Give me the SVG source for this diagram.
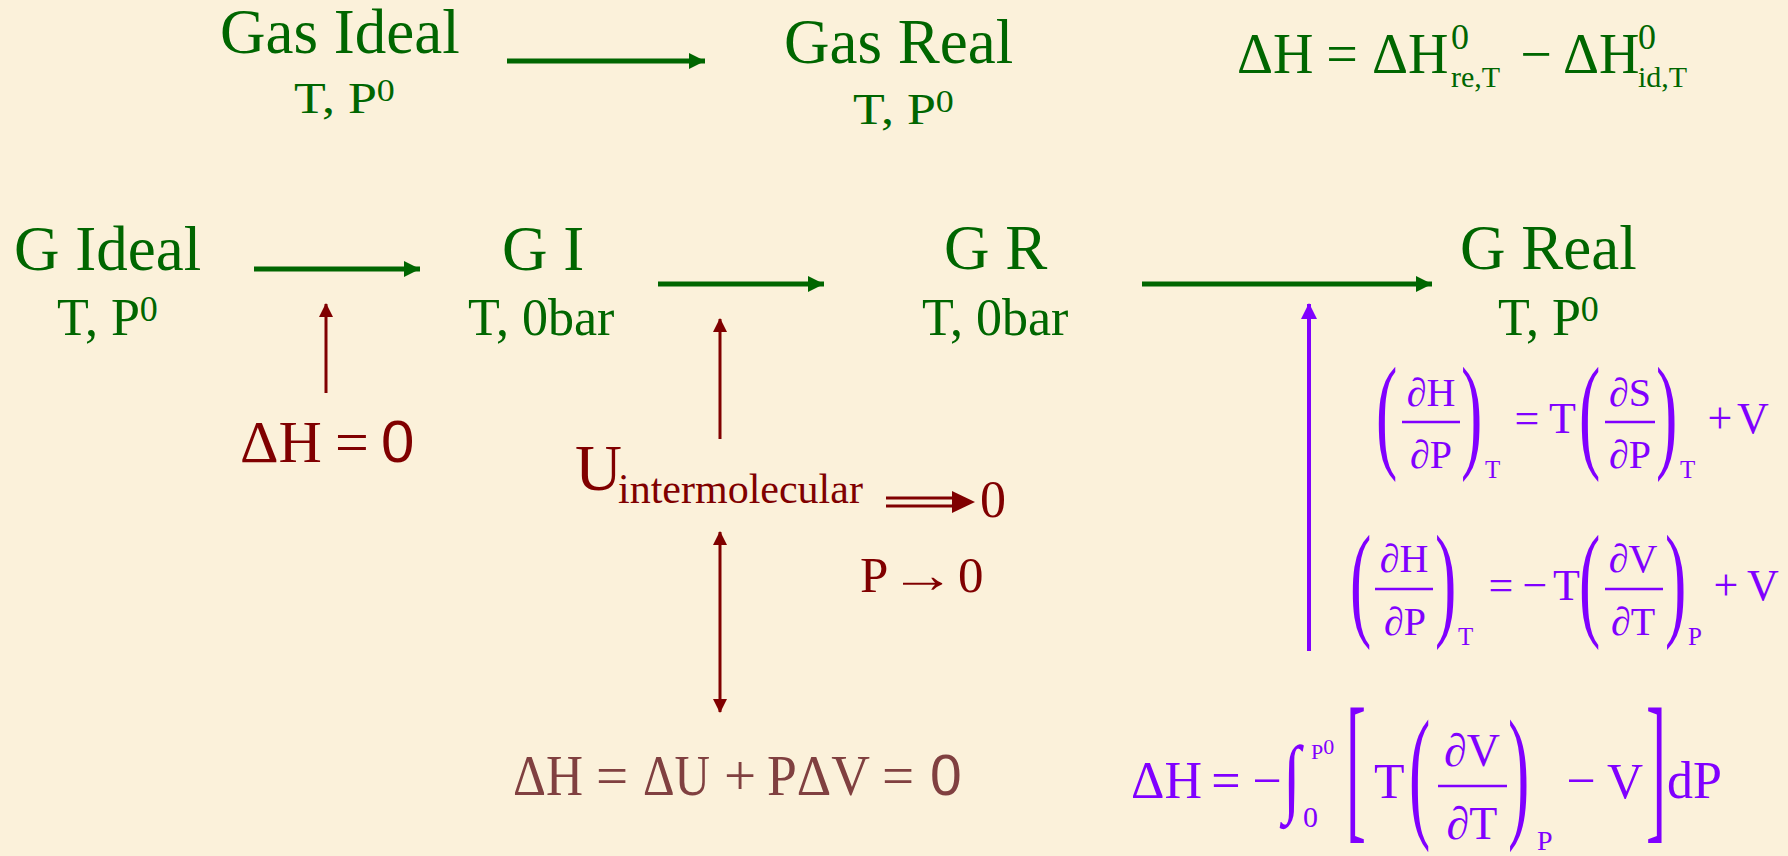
<svg xmlns="http://www.w3.org/2000/svg" width="1788" height="856" viewBox="0 0 1788 856">
<style>
text{font-family:"Liberation Serif","Times New Roman",serif;}
.g{fill:#006600;}
.r{fill:#800000;}
.b{fill:#804040;}
.v{fill:#8000ff;}
.sans{font-family:"Liberation Sans",Arial,sans-serif;}
.t63{font-size:63px;}
.t52{font-size:52px;}
.fr{font-size:40px;}
.mn{font-size:44px;}
.sb{font-size:25px;}
.par{font-size:64px;}
</style>
<defs>
<marker id="ag" markerUnits="userSpaceOnUse" markerWidth="18" markerHeight="16" refX="16" refY="8" orient="auto"><path d="M0,0 L16,8 L0,16 Z" fill="#006600"/></marker>
<marker id="ar" markerUnits="userSpaceOnUse" markerWidth="14" markerHeight="14" refX="13" refY="7" orient="auto-start-reverse"><path d="M0,0 L14,7 L0,14 Z" fill="#800000"/></marker>
<marker id="av" markerUnits="userSpaceOnUse" markerWidth="16" markerHeight="16" refX="15" refY="8" orient="auto"><path d="M0,0 L16,8 L0,16 Z" fill="#8000ff"/></marker>
</defs>
<rect width="1788" height="856" fill="#fbf1da"/>

<g id="connectors" fill="none">
<line x1="507" y1="61" x2="705" y2="61" stroke="#006600" stroke-width="5" marker-end="url(#ag)"/>
<line x1="254" y1="269" x2="420" y2="269" stroke="#006600" stroke-width="5" marker-end="url(#ag)"/>
<line x1="658" y1="284" x2="824" y2="284" stroke="#006600" stroke-width="5" marker-end="url(#ag)"/>
<line x1="1142" y1="284" x2="1432" y2="284" stroke="#006600" stroke-width="5" marker-end="url(#ag)"/>
<line x1="326" y1="393" x2="326" y2="304" stroke="#800000" stroke-width="3" marker-end="url(#ar)"/>
<line x1="720" y1="439" x2="720" y2="319" stroke="#800000" stroke-width="3" marker-end="url(#ar)"/>
<line x1="720" y1="532" x2="720" y2="712" stroke="#800000" stroke-width="3" marker-start="url(#ar)" marker-end="url(#ar)"/>
<line x1="1309" y1="651" x2="1309" y2="304" stroke="#8000ff" stroke-width="4" marker-end="url(#av)"/>
<g id="implies">
<line x1="886" y1="498" x2="956" y2="498" stroke="#800000" stroke-width="3"/>
<line x1="886" y1="506" x2="956" y2="506" stroke="#800000" stroke-width="3"/>
<path d="M952,491 L975,502 L952,513 Z" fill="#800000"/>
</g>
</g>

<g id="gas-ideal" class="g">
<text x="220" y="53" class="t63">Gas Ideal</text>
<text transform="translate(294,113) scale(1,0.85)" class="t52">T, P<tspan font-size="36" dy="-14">0</tspan></text>
</g>
<g id="gas-real" class="g">
<text x="784" y="63" class="t63">Gas Real</text>
<text transform="translate(853,124) scale(1,0.85)" class="t52">T, P<tspan font-size="36" dy="-14">0</tspan></text>
</g>
<g id="eq-top" class="g">
<text x="1237" y="73" font-size="56">ΔH</text>
<text x="1342" y="73" font-size="56" text-anchor="middle">=</text>
<text x="1372" y="73" font-size="56">ΔH</text>
<text x="1451" y="49" font-size="36">0</text>
<text x="1451" y="87" font-size="30">re,T</text>
<text x="1536" y="73" font-size="56" text-anchor="middle">−</text>
<text x="1563" y="73" font-size="56">ΔH</text>
<text x="1638" y="49" font-size="36">0</text>
<text x="1638" y="87" font-size="30">id,T</text>
</g>

<g id="g-ideal" class="g">
<text x="14" y="270" class="t63">G Ideal</text>
<text x="57" y="335" class="t52">T, P<tspan font-size="36" dy="-14">0</tspan></text>
</g>
<g id="g-i" class="g">
<text x="502" y="270" class="t63">G I</text>
<text x="468" y="335" class="t52">T, 0bar</text>
</g>
<g id="g-r" class="g">
<text x="944" y="269" class="t63">G R</text>
<text x="922" y="335" class="t52">T, 0bar</text>
</g>
<g id="g-real" class="g">
<text x="1460" y="269" class="t63">G Real</text>
<text x="1498" y="335" class="t52">T, P<tspan font-size="36" dy="-14">0</tspan></text>
</g>

<g id="dh-zero" class="r">
<text x="240" y="462" font-size="60">ΔH</text>
<text x="352" y="462" font-size="60" text-anchor="middle">=</text>
<text x="381" y="462" font-size="60" class="sans">0</text>
</g>

<g id="u-inter" class="r">
<text x="575" y="490" font-size="65">U</text>
<text x="618" y="503" font-size="42">intermolecular</text>
<text x="980" y="517" font-size="52">0</text>
</g>

<g id="p-zero" class="r">
<text x="860" y="592" font-size="51">P</text>
<text transform="translate(923,592) scale(1.3,1)" font-size="51" text-anchor="middle">→</text>
<text x="958" y="592" font-size="51">0</text>
</g>

<g id="dh-du" class="b">
<text x="513" y="795" font-size="57" textLength="70" lengthAdjust="spacingAndGlyphs">ΔH</text>
<text x="612" y="795" font-size="57" text-anchor="middle">=</text>
<text x="643" y="795" font-size="57" textLength="67" lengthAdjust="spacingAndGlyphs">ΔU</text>
<text x="740" y="795" font-size="57" text-anchor="middle">+</text>
<text x="767" y="795" font-size="57" textLength="103" lengthAdjust="spacingAndGlyphs">PΔV</text>
<text x="898" y="795" font-size="57" text-anchor="middle">=</text>
<text x="930" y="795" font-size="57" class="sans">0</text>
</g>

<g id="eq-dhdp-1" class="v">
<text class="par" transform="translate(1376,454.5) scale(1,2)">(</text>
<text x="1431" y="406" class="fr" text-anchor="middle">∂H</text>
<line x1="1402" y1="422" x2="1460" y2="422" stroke="#8000ff" stroke-width="2.5"/>
<text x="1431" y="468" class="fr" text-anchor="middle">∂P</text>
<text class="par" transform="translate(1461,454.5) scale(1,2)">)</text>
<text x="1485" y="478" class="sb">T</text>
<text x="1527" y="433" class="mn" text-anchor="middle">=</text>
<text x="1549" y="433" class="mn">T</text>
<text class="par" transform="translate(1579,454.5) scale(1,2)">(</text>
<text x="1630" y="406" class="fr" text-anchor="middle">∂S</text>
<line x1="1605" y1="422" x2="1655" y2="422" stroke="#8000ff" stroke-width="2.5"/>
<text x="1630" y="468" class="fr" text-anchor="middle">∂P</text>
<text class="par" transform="translate(1656,454.5) scale(1,2)">)</text>
<text x="1680" y="478" class="sb">T</text>
<text x="1720" y="433" class="mn" text-anchor="middle">+</text>
<text x="1737" y="433" class="mn">V</text>
</g>

<g id="eq-dhdp-2" class="v">
<text class="par" transform="translate(1350,622.7) scale(1,1.98)">(</text>
<text x="1404" y="572" class="fr" text-anchor="middle">∂H</text>
<line x1="1375" y1="589" x2="1433" y2="589" stroke="#8000ff" stroke-width="2.5"/>
<text x="1405" y="635" class="fr" text-anchor="middle">∂P</text>
<text class="par" transform="translate(1435,622.7) scale(1,1.98)">)</text>
<text x="1458" y="645" class="sb">T</text>
<text x="1501" y="600" class="mn" text-anchor="middle">=</text>
<text x="1535" y="600" class="mn" text-anchor="middle">−</text>
<text x="1553" y="600" class="mn">T</text>
<text class="par" transform="translate(1579,622.7) scale(1,1.98)">(</text>
<text x="1633" y="572" class="fr" text-anchor="middle">∂V</text>
<line x1="1605" y1="589" x2="1663" y2="589" stroke="#8000ff" stroke-width="2.5"/>
<text x="1633" y="635" class="fr" text-anchor="middle">∂T</text>
<text class="par" transform="translate(1665,622.7) scale(1,1.98)">)</text>
<text x="1688" y="645" class="sb">P</text>
<text x="1726" y="600" class="mn" text-anchor="middle">+</text>
<text x="1747" y="600" class="mn">V</text>
</g>

<g id="eq-integral" class="v">
<text x="1131" y="798" font-size="52">ΔH</text>
<text x="1226" y="798" font-size="52" text-anchor="middle">=</text>
<text x="1267" y="798" font-size="52" text-anchor="middle">−</text>
<text transform="translate(1283,805.7) scale(1,1.35)" font-size="64">∫</text>
<text x="1311" y="759" font-size="22">P<tspan font-size="22" dy="-5">0</tspan></text>
<text x="1303" y="827" font-size="30">0</text>
<text font-size="60" transform="translate(1346,820.6) scale(1,2.73)">[</text>
<text x="1374" y="798" font-size="50">T</text>
<text class="par" transform="translate(1409,821) scale(1,2.3)">(</text>
<text x="1472" y="766" font-size="46" text-anchor="middle">∂V</text>
<line x1="1438" y1="786" x2="1507" y2="786" stroke="#8000ff" stroke-width="2.5"/>
<text x="1472" y="839" font-size="46" text-anchor="middle">∂T</text>
<text class="par" transform="translate(1508,821) scale(1,2.3)">)</text>
<text x="1537" y="850" font-size="28">P</text>
<text x="1581" y="798" font-size="52" text-anchor="middle">−</text>
<text x="1607" y="798" font-size="50">V</text>
<text font-size="60" transform="translate(1646,820.6) scale(1,2.73)">]</text>
<text x="1667" y="798" font-size="52">dP</text>
</g>
</svg>
